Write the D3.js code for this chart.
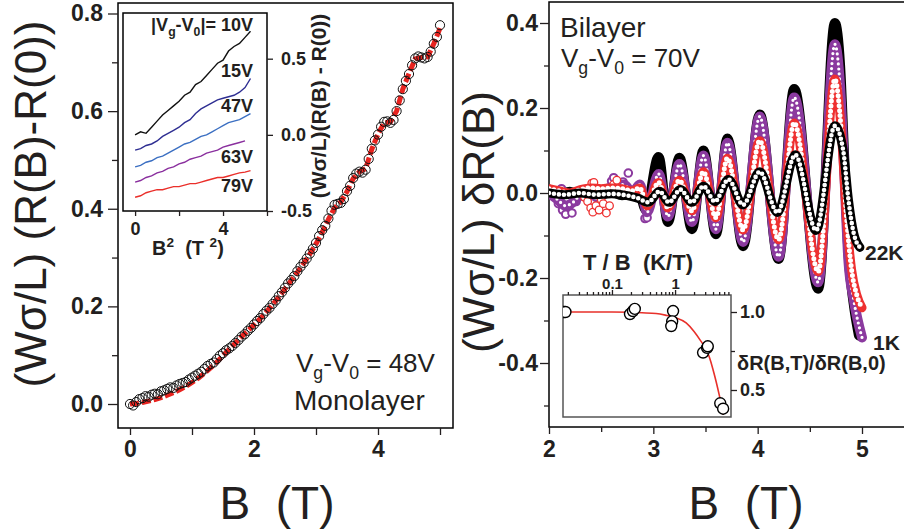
<!DOCTYPE html>
<html>
<head>
<meta charset="utf-8">
<script src="https://cdn.jsdelivr.net/npm/d3@7"></script>
<style>
body { margin: 0; background: #fff; }
svg { display: block; font-family: "Liberation Sans", Arial, sans-serif; }
</style>
</head>
<body>
<div id="fig"></div>
<script>
// ---- monolayer, main panel: B (T) and (Wσ/L)(R(B)-R(0))
var monoB = [0,0.05,0.1,0.15,0.2,0.25,0.3,0.35,0.4,0.45,0.5,0.55,0.6,0.65,0.7,0.75,0.8,0.85,0.9,0.95,
  1,1.05,1.1,1.15,1.2,1.25,1.3,1.35,1.4,1.45,1.5,1.55,1.6,1.65,1.7,1.75,1.8,1.85,1.9,1.95,
  2,2.05,2.1,2.15,2.2,2.25,2.3,2.35,2.4,2.45,2.5,2.55,2.6,2.65,2.7,2.75,2.8,2.85,2.9,2.95,
  3,3.05,3.1,3.15,3.2,3.25,3.3,3.35,3.4,3.45,3.5,3.55,3.6,3.65,3.7,3.75,3.8,3.85,3.9,3.95,
  4,4.05,4.1,4.15,4.2,4.25,4.3,4.35,4.4,4.45,4.5,4.55,4.6,4.65,4.7,4.75,4.8,4.85,4.9,4.95,5]
var monoR = [0.000,-0.003,0.004,0.010,0.012,0.016,0.015,0.019,0.021,0.020,
  0.026,0.028,0.031,0.034,0.033,0.038,0.041,0.043,0.045,0.050,
  0.054,0.058,0.062,0.066,0.072,0.078,0.082,0.085,0.092,0.099,
  0.104,0.110,0.114,0.119,0.125,0.131,0.138,0.143,0.150,0.156,
  0.163,0.170,0.176,0.184,0.191,0.197,0.205,0.212,0.221,0.229,
  0.238,0.247,0.254,0.262,0.272,0.281,0.289,0.298,0.308,0.318,
  0.330,0.344,0.356,0.365,0.380,0.396,0.408,0.410,0.412,0.420,
  0.436,0.447,0.463,0.472,0.476,0.474,0.480,0.502,0.523,0.540,
  0.552,0.568,0.578,0.579,0.576,0.582,0.600,0.622,0.645,0.662,
  0.676,0.694,0.708,0.712,0.710,0.708,0.711,0.722,0.738,0.752,0.776]
// red fit through the monolayer data
var fitB = [0,0.1,0.2,0.3,0.4,0.5,0.6,0.7,0.8,0.9,1,1.1,1.2,1.3,1.4,1.5,1.6,1.7,1.8,1.9,
  2,2.1,2.2,2.3,2.4,2.5,2.6,2.7,2.8,2.9,3,3.1,3.2,3.3,3.4,3.5,3.6,3.7,3.8,3.9,
  4,4.1,4.2,4.3,4.4,4.5,4.6,4.7,4.8,4.9,5]
var fitR = [0.000,0.001,0.003,0.006,0.009,0.013,0.018,0.023,0.029,0.036,
  0.044,0.053,0.063,0.074,0.086,0.099,0.112,0.125,0.138,0.150,
  0.162,0.175,0.189,0.204,0.219,0.236,0.253,0.270,0.288,0.307,
  0.328,0.352,0.378,0.402,0.414,0.435,0.462,0.476,0.482,0.522,
  0.553,0.576,0.578,0.600,0.645,0.677,0.707,0.710,0.711,0.738,0.770]

// ---- monolayer inset: B^2 and one trace per gate voltage
var insetB2 = [0,0.25,0.5,0.75,1,1.25,1.5,1.75,2,2.25,2.5,2.75,3,3.25,3.5,3.75,4,4.25,4.5,4.75,5,5.25]
var gateLabels = ['10V', '15V', '47V', '63V', '79V']
var gateColors = ['#111111', '#2e2e92', '#3b6fc2', '#8a2f9e', '#ea2f2a']
var v10 = [0.00,0.02,0.01,0.05,0.09,0.13,0.16,0.19,0.22,0.26,0.28,0.33,0.35,0.39,0.43,0.47,0.49,0.55,0.58,0.60,0.64,0.68]
var v15 = [-0.10,-0.09,-0.07,-0.06,-0.04,-0.01,0.01,0.03,0.05,0.08,0.10,0.14,0.17,0.19,0.21,0.23,0.24,0.25,0.26,0.28,0.31,0.37]
var v47 = [-0.21,-0.20,-0.18,-0.17,-0.15,-0.14,-0.12,-0.10,-0.08,-0.06,-0.05,-0.03,-0.01,0.00,0.02,0.04,0.06,0.08,0.09,0.10,0.12,0.14]
var v63 = [-0.31,-0.30,-0.28,-0.27,-0.25,-0.24,-0.22,-0.21,-0.19,-0.18,-0.16,-0.15,-0.14,-0.12,-0.11,-0.10,-0.08,-0.07,-0.06,-0.05,-0.04]
var v79 = [-0.41,-0.40,-0.38,-0.37,-0.36,-0.36,-0.35,-0.34,-0.34,-0.33,-0.32,-0.32,-0.31,-0.30,-0.29,-0.28,-0.28,-0.27,-0.26,-0.25,-0.245,-0.235]

// ---- bilayer panel: (Wσ/L) δR(B) for four temperatures
var bfB = [2.00,2.10,2.20,2.30,2.40,2.50,2.60,2.70,2.80,2.86,2.93,3.05,3.14,3.25,3.37,3.48,3.60,3.71,3.86,4.02,4.20,4.35,4.58,4.74,4.79,4.83,4.87,4.92,4.97]
var bfV = [0.008,-0.004,0.003,-0.006,0.002,-0.004,0.003,-0.005,0.000,0.004,-0.040,0.085,-0.068,0.083,-0.085,0.100,-0.097,0.128,-0.125,0.185,-0.155,0.245,-0.225,0.400,0.300,0.080,-0.140,-0.260,-0.335]
var puB = [2.00,2.08,2.16,2.24,2.32,2.40,2.48,2.56,2.64,2.72,2.80,2.87,2.94,3.05,3.14,3.25,3.37,3.48,3.60,3.71,3.86,4.02,4.20,4.35,4.58,4.74,4.79,4.83,4.87,4.92,5.00]
var puV = [0.000,-0.015,-0.030,-0.020,0.000,-0.005,0.000,0.010,0.015,0.020,0.000,0.020,-0.045,0.045,-0.055,0.068,-0.068,0.088,-0.085,0.118,-0.115,0.180,-0.150,0.225,-0.210,0.350,0.250,0.050,-0.160,-0.250,-0.340]
var rdB = [2.00,2.10,2.20,2.30,2.40,2.50,2.60,2.70,2.80,2.87,2.94,3.05,3.14,3.25,3.37,3.48,3.60,3.71,3.86,4.02,4.20,4.35,4.58,4.74,4.80,4.85,4.90,4.95,5.00]
var rdV = [0.010,0.005,0.000,0.008,0.012,0.010,0.012,0.010,0.005,0.012,-0.030,0.025,-0.035,0.030,-0.042,0.050,-0.058,0.082,-0.087,0.123,-0.110,0.165,-0.185,0.268,0.150,-0.050,-0.180,-0.240,-0.270]
var hoB = [2.00,2.15,2.30,2.45,2.60,2.75,2.85,2.95,3.06,3.15,3.26,3.37,3.48,3.59,3.72,3.86,4.02,4.19,4.36,4.56,4.74,4.82,4.87,4.92,4.98]
var hoV = [0.000,-0.004,0.000,-0.004,-0.002,-0.006,-0.012,-0.022,0.004,-0.022,0.008,-0.022,0.016,-0.020,0.032,-0.028,0.050,-0.046,0.090,-0.088,0.158,0.100,-0.016,-0.094,-0.128]
// scattered low-field points
var puScatB = [2.09,2.13,2.16,2.19,2.22,2.26,2.12,2.45,2.60,2.62,2.71,2.76,2.85,2.92,2.94]
var puScatV = [-0.025,-0.040,-0.050,-0.032,-0.047,-0.020,0.010,-0.010,0.028,0.036,0.026,0.047,0.015,-0.060,-0.058]
var rdScatB = [2.34,2.37,2.40,2.41,2.42,2.43,2.45,2.48,2.50,2.52,2.55,2.58,2.62,2.65]
var rdScatV = [-0.010,-0.020,-0.035,0.023,-0.045,0.025,-0.030,-0.040,-0.015,-0.025,-0.047,-0.030,0.020,0.030]

// ---- bilayer inset: δR(B,T)/δR(B,0) against T/B
var ratioT = [0.0167,0.0175,0.0183,0.193,0.215,0.23,0.93,0.90,0.87,2.78,3.22,3.30,5.2,5.78]
var ratioV = [1.0,1.0,1.0,0.987,1.006,1.02,1.006,0.94,0.91,0.74,0.77,0.78,0.415,0.38]
var ratioFitT = [0.0167,0.1,0.2,0.3,0.5,0.7,1.0,1.5,2.0,2.5,3.0,3.5,4.0,4.5,5.0,5.5,5.8]
var ratioFitV = [1.0,1.0,0.998,0.995,0.99,0.98,0.965,0.93,0.875,0.82,0.77,0.71,0.63,0.55,0.47,0.39,0.34]

var INK = '#231f20'
var svg = d3.select('#fig').append('svg')
    .attr('width', 904)
    .attr('height', 531)

function styleAxis(g, size) {
    g.select('.domain').remove()
    g.attr('font-family', null)
        .attr('font-size', size)
        .attr('font-weight', 'bold')
        .attr('color', INK)
    g.selectAll('.tick line').attr('stroke-width', 1.3)
    return g
}

// text with sub/superscripts: parts = [[text, 'sub'|'sup'|null], ...]
function richText(g, x, y, parts, size, weight, anchor) {
    var t = g.append('text')
        .attr('x', x).attr('y', y)
        .attr('font-size', size)
        .attr('font-weight', weight || 'normal')
        .attr('text-anchor', anchor || 'start')
        .attr('fill', INK)
        .style('white-space', 'pre')
    var shift = 0
    parts.forEach(function (p) {
        var s = p[1] === 'sub' ? size * 0.28 : p[1] === 'sup' ? -size * 0.4 : 0
        t.append('tspan')
            .attr('dy', s - shift)
            .attr('font-size', p[1] ? size * 0.68 : size)
            .text(p[0])
        shift = s
    })
    return t
}

function plainText(g, x, y, str, size, weight, anchor, rotate) {
    var t = g.append('text')
        .attr('font-size', size)
        .attr('font-weight', weight || 'normal')
        .attr('text-anchor', anchor || 'start')
        .attr('fill', INK)
        .style('white-space', 'pre')
        .text(str)
    if (rotate) t.attr('transform', 'translate(' + x + ',' + y + ') rotate(' + rotate + ')')
    else t.attr('x', x).attr('y', y)
    return t
}

// ================= left panel (monolayer) =================
var xL = d3.scaleLinear().domain([0, 5]).range([130, 440])
var yL = d3.scaleLinear().domain([0, 0.8]).range([404, 13.5])
var left = svg.append('g')

left.append('rect')
    .attr('x', 118).attr('y', 3).attr('width', 335).attr('height', 425)
    .attr('fill', 'none').attr('stroke', '#000').attr('stroke-width', 1.5)

styleAxis(left.append('g').attr('transform', 'translate(0,428)')
    .call(d3.axisBottom(xL).tickValues([0, 1, 2, 3, 4, 5]).tickSize(7).tickPadding(6)
        .tickFormat(function (d) { return d % 2 ? '' : d })), 23)
styleAxis(left.append('g').attr('transform', 'translate(118,0)')
    .call(d3.axisLeft(yL).tickValues([0, 0.2, 0.4, 0.6, 0.8]).tickSize(10).tickPadding(5)
        .tickFormat(function (d) { return d.toFixed(1) })), 23)
styleAxis(left.append('g').attr('transform', 'translate(118,0)')
    .call(d3.axisLeft(yL).tickValues([0.1, 0.3, 0.5, 0.7]).tickSize(6).tickFormat('')), 23)

var fitLine = d3.line()
    .x(function (d) { return xL(d[0]) })
    .y(function (d) { return yL(d[1]) })
left.append('path')
    .attr('d', fitLine(fitB.map(function (b, i) { return [b, fitR[i]] })))
    .attr('fill', 'none')
    .attr('stroke', '#e8231f')
    .attr('stroke-width', 5)
    .attr('stroke-dasharray', '9,3')

left.selectAll('circle.mono')
    .data(monoB)
    .enter()
    .append('circle')
    .attr('class', 'mono')
    .attr('cx', function (d) { return xL(d) })
    .attr('cy', function (d, i) { return yL(monoR[i]) })
    .attr('r', 4.6)
    .attr('fill', 'none')
    .attr('stroke', '#111')
    .attr('stroke-width', 1)

richText(left, 296, 372, [['V'], ['g', 'sub'], ['-V'], ['0', 'sub'], [' = 48V']], 26)
plainText(left, 294, 410, 'Monolayer', 28)
plainText(left, 277, 519, 'B  (T)', 46, 'normal', 'middle')
plainText(left, 46, 204, '(W\u03c3/L) (R(B)-R(0))', 44, 'normal', 'middle', -90)

// ---- inset of left panel
var xI = d3.scaleLinear().domain([-0.55, 6]).range([123, 267])
var yI = d3.scaleLinear().domain([-0.5, 0.8]).range([211, 13])
var inset = svg.append('g')
inset.append('rect')
    .attr('x', 123).attr('y', 13).attr('width', 144).attr('height', 198)
    .attr('fill', '#fff').attr('stroke', '#000').attr('stroke-width', 1.5)

styleAxis(inset.append('g').attr('transform', 'translate(0,211)')
    .call(d3.axisBottom(xI).tickValues([0, 2, 4, 6]).tickSize(5).tickPadding(6)
        .tickFormat(function (d) { return d === 0 || d === 4 ? d : '' })), 18)
styleAxis(inset.append('g').attr('transform', 'translate(267,0)')
    .call(d3.axisRight(yI).tickValues([-0.5, 0, 0.5]).tickSize(6).tickPadding(8)
        .tickFormat(function (d) { return d.toFixed(1) })), 18)

var gateSeries = [v10, v15, v47, v63, v79]
var insetLine = d3.line()
    .x(function (d) { return xI(d[0]) })
    .y(function (d) { return yI(d[1]) })
gateSeries.forEach(function (vals, k) {
    inset.append('path')
        .attr('d', insetLine(vals.map(function (v, i) { return [insetB2[i], v] })))
        .attr('fill', 'none')
        .attr('stroke', gateColors[k])
        .attr('stroke-width', 1.4)
})

richText(inset, 253, 31, [['|V'], ['g', 'sub'], ['-V'], ['0', 'sub'], ['|= ' + gateLabels[0]]], 18, 'bold', 'end')
var gateLabelY = [77, 112, 163, 192]
gateLabels.slice(1).forEach(function (s, k) {
    plainText(inset, 253, gateLabelY[k], s, 18, 'bold', 'end')
})
richText(inset, 152, 255, [['B'], ['2', 'sup'], ['  (T '], ['2', 'sup'], [')']], 20, 'bold')
plainText(inset, 326, 106, '(W\u03c3/L)(R(B) - R(0))', 21, 'bold', 'middle', -90)

// ================= right panel (bilayer) =================
var xR = d3.scaleLinear().domain([2, 5]).range([549, 862])
var yR = d3.scaleLinear().domain([-0.4, 0.4]).range([363, 23])
var right = svg.append('g')

right.append('defs').append('clipPath').attr('id', 'clipR')
    .append('rect').attr('x', 549).attr('y', 2).attr('width', 360).attr('height', 425)

right.append('rect')
    .attr('x', 549).attr('y', 2).attr('width', 400).attr('height', 425)
    .attr('fill', 'none').attr('stroke', '#000').attr('stroke-width', 1.5)

styleAxis(right.append('g').attr('transform', 'translate(0,427)')
    .call(d3.axisBottom(xR).tickValues([2, 3, 4, 5]).tickSize(7).tickPadding(7)
        .tickFormat(d3.format('d'))), 23)
styleAxis(right.append('g').attr('transform', 'translate(0,427)')
    .call(d3.axisBottom(xR).tickValues([2.5, 3.5, 4.5]).tickSize(5).tickFormat('')), 23)
styleAxis(right.append('g').attr('transform', 'translate(549,0)')
    .call(d3.axisLeft(yR).tickValues([-0.4, -0.2, 0, 0.2, 0.4]).tickSize(9).tickPadding(2)
        .tickFormat(function (d) { return d.toFixed(1) })), 23)
styleAxis(right.append('g').attr('transform', 'translate(549,0)')
    .call(d3.axisLeft(yR).tickValues([-0.5, -0.3, -0.1, 0.1, 0.3]).tickSize(5).tickFormat('')), 23)

var dataR = right.append('g').attr('clip-path', 'url(#clipR)')
var osc = d3.line()
    .curve(d3.curveMonotoneX)
    .x(function (d) { return xR(d[0]) })
    .y(function (d) { return yR(d[1]) })

function pairs(B, V) { return B.map(function (b, i) { return [b, V[i]] }) }

function solidBand(B, V, col, w) {
    dataR.append('path')
        .attr('d', osc(pairs(B, V)))
        .attr('fill', 'none').attr('stroke', col).attr('stroke-width', w)
        .attr('stroke-linecap', 'round').attr('stroke-linejoin', 'round')
}
// chain of open circles drawn as a wide band with white holes
function ringBand(B, V, col, outer, inner, gap) {
    solidBand(B, V, col, outer)
    dataR.append('path')
        .attr('d', osc(pairs(B, V)))
        .attr('fill', 'none').attr('stroke', '#fff').attr('stroke-width', inner)
        .attr('stroke-linecap', 'round').attr('stroke-dasharray', '0 ' + gap)
}
function scatter(B, V, col, sw) {
    dataR.selectAll(null)
        .data(B)
        .enter()
        .append('circle')
        .attr('cx', function (d) { return xR(d) })
        .attr('cy', function (d, i) { return yR(V[i]) })
        .attr('r', 3.8)
        .attr('fill', '#fff')
        .attr('stroke', col)
        .attr('stroke-width', sw)
}

solidBand(bfB, bfV, '#000', 10)
scatter(puScatB, puScatV, '#8b3a9f', 2)
ringBand(puB, puV, '#8b3a9f', 10, 3.2, 5)
scatter(rdScatB, rdScatV, '#ee3030', 1.3)
ringBand(rdB, rdV, '#ee3030', 9, 5, 5)
ringBand(hoB, hoV, '#000', 9, 4.6, 5)

plainText(right, 560, 37, 'Bilayer', 28)
richText(right, 561, 67, [['V'], ['g', 'sub'], ['-V'], ['0', 'sub'], [' = 70V']], 26)
plainText(right, 865, 260, '22K', 21, 'bold')
plainText(right, 873, 350, '1K', 21, 'bold')
plainText(right, 746, 519, 'B  (T)', 46, 'normal', 'middle')
plainText(right, 494, 222, '(W\u03c3/L) \u03b4R(B)', 44, 'normal', 'middle', -90)

// ---- inset of right panel
var xT = d3.scaleLog().domain([0.01675, 7.7]).range([563, 731])
var yT = d3.scaleLinear().domain([0.5, 1.0]).range([390, 312])
var inset2 = svg.append('g')
inset2.append('defs').append('clipPath').attr('id', 'clipT')
    .append('rect').attr('x', 563).attr('y', 295).attr('width', 168).attr('height', 122)
inset2.append('rect')
    .attr('x', 563).attr('y', 295).attr('width', 168).attr('height', 122)
    .attr('fill', '#fff').attr('stroke', '#555').attr('stroke-width', 1.5)

var minorT = [0.02,0.03,0.04,0.05,0.06,0.07,0.08,0.09,0.2,0.3,0.4,0.5,0.6,0.7,0.8,0.9,2,3,4,5,6,7]
styleAxis(inset2.append('g').attr('transform', 'translate(0,295)')
    .call(d3.axisTop(xT).tickValues([0.1, 1]).tickSize(5).tickPadding(1)
        .tickFormat(function (d) { return d === 1 ? '1' : '0.1' })), 15)
styleAxis(inset2.append('g').attr('transform', 'translate(0,295)')
    .call(d3.axisTop(xT).tickValues(minorT).tickSize(3).tickFormat('')), 15)
styleAxis(inset2.append('g').attr('transform', 'translate(731,0)')
    .call(d3.axisRight(yT).tickValues([0.5, 1.0]).tickSize(6).tickPadding(3)
        .tickFormat(function (d) { return d.toFixed(1) })), 18)
styleAxis(inset2.append('g').attr('transform', 'translate(731,0)')
    .call(d3.axisRight(yT).tickValues([0.75]).tickSize(4).tickFormat('')), 18)

var inData = inset2.append('g').attr('clip-path', 'url(#clipT)')
inData.append('path')
    .attr('d', d3.line().curve(d3.curveMonotoneX)
        .x(function (d) { return xT(d[0]) })
        .y(function (d) { return yT(d[1]) })(pairs(ratioFitT, ratioFitV)))
    .attr('fill', 'none').attr('stroke', '#e8302a').attr('stroke-width', 1.6)
inData.selectAll('circle')
    .data(ratioT)
    .enter()
    .append('circle')
    .attr('cx', function (d) { return xT(d) })
    .attr('cy', function (d, i) { return yT(ratioV[i]) })
    .attr('r', 5.5)
    .attr('fill', '#fff')
    .attr('stroke', '#000')
    .attr('stroke-width', 1.4)

plainText(inset2, 583, 270, 'T / B  (K/T)', 22, 'bold')
plainText(inset2, 737, 370, '\u03b4R(B,T)/\u03b4R(B,0)', 20, 'bold')
</script>
</body>
</html>
